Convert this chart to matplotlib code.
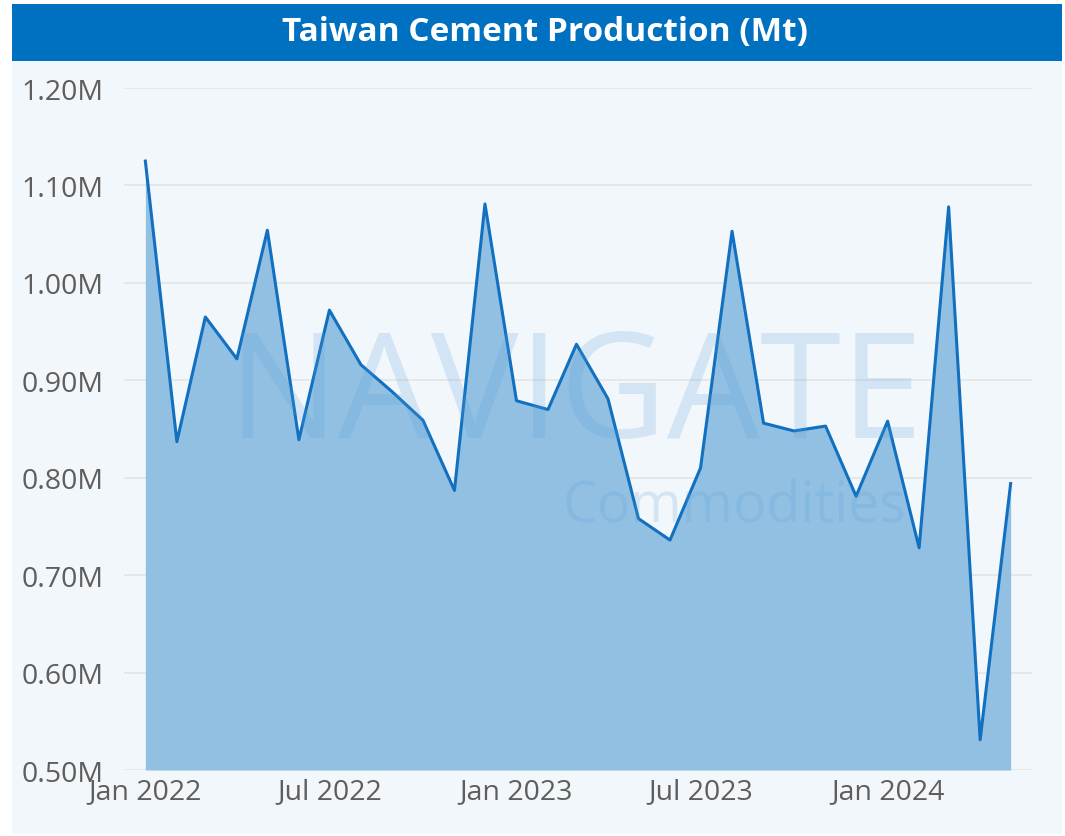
import numpy as np
import pandas as pd
import matplotlib
matplotlib.use('Agg')
import matplotlib.pyplot as plt
import matplotlib.dates as mdates
from matplotlib.patches import Rectangle

# monthly production (million tonnes)
months = pd.date_range('2022-01-01', '2024-05-01', freq='MS')
production = [1.125, 0.837, 0.965, 0.922, 1.054, 0.839, 0.972, 0.916, 0.888, 0.859,
              0.787, 1.081, 0.879, 0.870, 0.937, 0.881, 0.758, 0.736, 0.810, 1.053,
              0.856, 0.848, 0.853, 0.781, 0.858, 0.728, 1.078, 0.531, 0.794]
yticks = [0.5, 0.6, 0.7, 0.8, 0.9, 1.0, 1.1, 1.2]
xticks = ['2022-01-01', '2022-07-01', '2023-01-01', '2023-07-01', '2024-01-01']

W, H = 1065, 837
fig = plt.figure(figsize=(W / 100, H / 100), dpi=100)
fig.patch.set_facecolor('white')

# panel + title bar
fig.patches.append(Rectangle((12 / W, 1 - 835 / H), 1050 / W, 773 / H, transform=fig.transFigure,
                             facecolor='#F2F7FB', edgecolor='none', zorder=-5))
fig.patches.append(Rectangle((12 / W, 1 - 62 / H), 1050 / W, 57 / H, transform=fig.transFigure,
                             facecolor='#0070C0', edgecolor='none', zorder=-5))
fig.text(545 / W, 1 - 33 / H, 'Taiwan Cement Production (Mt)', color='white', fontsize=24,
         fontweight='bold', family='Open Sans', ha='center', va='center')

ax = fig.add_axes([124 / W, 1 - 771 / H, (1032 - 124) / W, (771 - 89) / H])
ax.set_facecolor('none')

ax.fill_between(months, production, 0.5, color='#92C0E2', lw=0, zorder=2)
ax.plot(months, production, color='#1170C0', lw=2.2, zorder=3)

ax.set_ylim(0.5, 1.2)
ax.set_xlim(pd.Timestamp('2021-12-11'), pd.Timestamp('2024-05-22'))
ax.set_yticks(yticks)
ax.set_yticklabels(['%.2fM' % v for v in yticks])
ax.set_xticks(pd.to_datetime(xticks))
ax.xaxis.set_major_formatter(mdates.DateFormatter('%b %Y'))
ax.grid(axis='y', color='#E4E4E4', lw=1.2, zorder=1)
ax.set_axisbelow(True)
for s in ax.spines.values():
    s.set_visible(False)
ax.tick_params(length=0, labelsize=20.5, labelcolor='#605E5C')
ax.tick_params(axis='y', pad=15)
ax.tick_params(axis='x', pad=5)
for lab in ax.get_xticklabels() + ax.get_yticklabels():
    lab.set_family('Open Sans')

# watermark
fig.text(575 / W, 1 - 400 / H, 'NAVIGATE', color='#5AA0D8', alpha=0.2, fontsize=106,
         family='Open Sans', ha='center', va='center', zorder=5)
fig.text(735 / W, 1 - 508 / H, 'Commodities', color='#5AA0D8', alpha=0.2, fontsize=40,
         family='Open Sans', ha='center', va='center', zorder=5)

fig.savefig('out.png', dpi=100, facecolor=fig.get_facecolor())
